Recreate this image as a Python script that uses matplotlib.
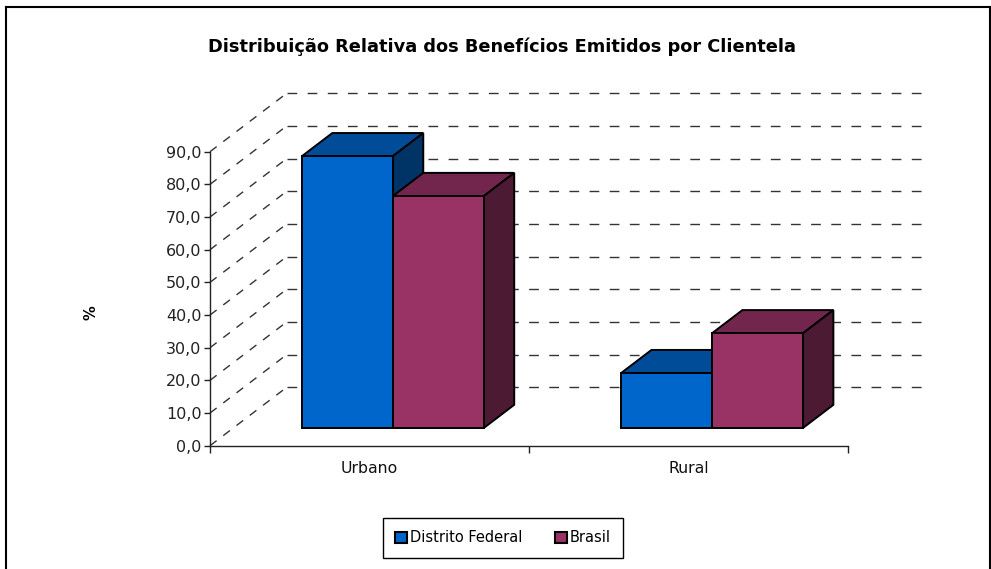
import matplotlib
matplotlib.use("Agg")
import matplotlib.pyplot as plt
from matplotlib.patches import Polygon, Rectangle
from matplotlib.lines import Line2D
import matplotlib.ticker as mticker

# ---- data ----
categories = ["Urbano", "Rural"]
series_names = ["Distrito Federal", "Brasil"]
df_values = [83.2, 16.8]
br_values = [71.0, 29.0]
yticks = [0, 10, 20, 30, 40, 50, 60, 70, 80, 90]
title = "Distribuição Relativa dos Benefícios Emitidos por Clientela"

# ---- styles ----
front_cols = ["#0066CC", "#993366"]
top_cols = ["#004C99", "#73264D"]
side_cols = ["#003366", "#4D1A33"]

W, H = 991, 569
fig = plt.figure(figsize=(W / 100, H / 100), dpi=100)

# axes geometry (pixels)
x0_px, y0_px = 210.0, 445.7
cat_px = 319.15
unit_px = 3.2667
xmax, ymax = 2.35, 110
ax = fig.add_axes([x0_px / W, (H - y0_px) / H, xmax * cat_px / W, ymax * unit_px / H])
ax.set_xlim(0, xmax)
ax.set_ylim(0, ymax)
ax.patch.set_alpha(0)

# oblique depth in data units
DX = 76.7 / cat_px
DY = 58.4 / unit_px
f0, f1 = 0.3, 0.7   # bar depth range

# back wall gridlines
for v in yticks:
    ax.plot([DX, 2 + DX], [v + DY, v + DY], color="#333333", lw=1.0,
            ls=(0, (7, 7.5)), clip_on=False, zorder=1)
# side wall diagonals
for v in yticks:
    ax.plot([0, DX], [v, v + DY], color="#333333", lw=1.0,
            ls=(0, (6, 6)), clip_on=False, zorder=1)

bar_w = 0.285
start = 0.5 - bar_w
for i, cat in enumerate(categories):
    for s, vals in enumerate([df_values, br_values]):
        v = vals[i]
        xl = i + start + s * bar_w + f0 * DX
        xr = xl + bar_w
        yb = f0 * DY
        yt = yb + v
        ddx = (f1 - f0) * DX
        ddy = (f1 - f0) * DY
        top = Polygon([(xl, yt), (xr, yt), (xr + ddx, yt + ddy), (xl + ddx, yt + ddy)],
                      closed=True, fc=top_cols[s], ec="black", lw=1.4, zorder=2 + i * 2 + s * 0.1, clip_on=False)
        side = Polygon([(xr, yb), (xr + ddx, yb + ddy), (xr + ddx, yt + ddy), (xr, yt)],
                       closed=True, fc=side_cols[s], ec="black", lw=1.4, zorder=2 + i * 2 + s * 0.1, clip_on=False)
        front = Polygon([(xl, yb), (xr, yb), (xr, yt), (xl, yt)],
                        closed=True, fc=front_cols[s], ec="black", lw=1.4, zorder=2.05 + i * 2 + s * 0.1, clip_on=False)
        for p in (top, side, front):
            ax.add_patch(p)

# axes spines
for sp in ["top", "right"]:
    ax.spines[sp].set_visible(False)
ax.spines["left"].set_position(("data", 0))
ax.spines["left"].set_bounds(0, 90)
ax.spines["bottom"].set_position(("data", 0))
ax.spines["bottom"].set_bounds(0, 2)
for sp in ["left", "bottom"]:
    ax.spines[sp].set_color("#222222")
    ax.spines[sp].set_linewidth(1.0)

ax.set_yticks(yticks)
ax.yaxis.set_major_formatter(mticker.FuncFormatter(lambda v, p: f"{v:.1f}".replace(".", ",")))
ax.tick_params(axis="y", direction="out", length=4, width=1, labelsize=11.5, pad=2, colors="#222222")
ax.set_xticks([0, 1, 2])
ax.set_xticklabels(["", "", ""])
ax.set_xticks([0.5, 1.5], minor=True)
ax.set_xticklabels(categories, minor=True)
ax.tick_params(axis="x", which="major", direction="out", length=5, width=1, colors="#222222")
ax.tick_params(axis="x", which="minor", length=0, labelsize=11.3, pad=11, labelcolor="#111111")

fig.text(91 / W, 1 - 313 / H, "%", rotation=90, ha="center", va="center", fontsize=10.5, fontweight="bold")
fig.text(502 / W, 1 - 47 / H, title, ha="center", va="center", fontsize=12.8, fontweight="bold")

# legend
handles = [Rectangle((0, 0), 1, 1, fc=front_cols[k], ec="black", lw=1.5) for k in range(2)]
leg = fig.legend(handles, series_names, loc="center", bbox_to_anchor=(503 / W, 1 - 538 / H),
                 ncol=2, frameon=True, fancybox=False, edgecolor="black", fontsize=10.5,
                 handlelength=0.8, handleheight=0.8, handletextpad=0.2, columnspacing=2.3,
                 borderpad=0.85, framealpha=1)
leg.get_frame().set_linewidth(1.0)

# figure border
fig.add_artist(Line2D([6 / W, 6 / W], [0, 1 - 7 / H], transform=fig.transFigure, color="black", lw=1.5))
fig.add_artist(Line2D([6 / W, 990 / W], [1 - 7 / H, 1 - 7 / H], transform=fig.transFigure, color="black", lw=1.5))
fig.add_artist(Line2D([990 / W, 990 / W], [0, 1 - 7 / H], transform=fig.transFigure, color="black", lw=1.5))

fig.savefig("out.png", dpi=100)
